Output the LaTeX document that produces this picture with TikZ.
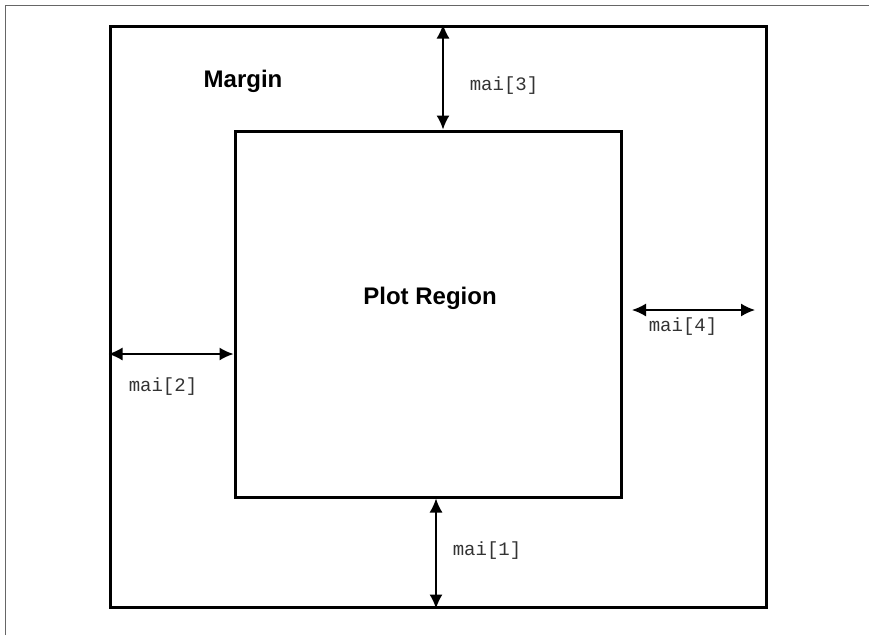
\documentclass[tikz,border=0pt]{standalone}
\usepackage{fontspec}
\setmainfont{Liberation Sans}
\setmonofont{Liberation Mono}
\usepackage{tikz}
\usetikzlibrary{arrows.meta,positioning,calc}

\tikzset{
  regionbox/.style={draw,line width=3pt,minimum width=#1},
  gapline/.style={{Latex[length=14pt,width=13pt]}-{Latex[length=14pt,width=13pt]},line width=1.5pt},
  boxlabel/.style={font=\fontsize{24}{28}\selectfont\bfseries,anchor=base},
  gaplabel/.style={font=\fontsize{19}{22}\selectfont\ttfamily,anchor=base,text=black!80}
}

\begin{document}
\begin{tikzpicture}[x=1pt,y=-1pt]
 \useasboundingbox (0,0) rectangle (869,635);
 % page frame
 \draw[black!60,line width=1pt] (5,635) -- (5,5) -- (869,5);
 % figure and plot region
 \node[regionbox=656pt,minimum height=581pt] (outer) at (438,316.5) {};
 \node[regionbox=386pt,minimum height=366pt] (inner) at (428,314) {};
 \node[boxlabel] (margin) at (243,87) {Margin};
 \node[boxlabel] (plot) at (430,304) {Plot Region};
 % top
 \coordinate (top) at (443,0);
 \draw[gapline] (top |- outer.north) -- (top |- inner.north);
 \node[gaplabel] (mai3) at (504,90) {mai[3]};
 % right
 \coordinate (rgta) at (632,310);
 \coordinate (rgtb) at (755,310);
 \draw[gapline] (rgta) -- (rgtb);
 \node[gaplabel] (mai4) at (683,331) {mai[4]};
 % left
 \coordinate (lft) at (0,354);
 \draw[gapline] (lft -| outer.west) -- (lft -| inner.west);
 \node[gaplabel] (mai2) at (163,391) {mai[2]};
 % bottom
 \coordinate (bot) at (436,0);
 \draw[gapline] (bot |- inner.south) -- (bot |- outer.south);
 \node[gaplabel] (mai1) at (487,555) {mai[1]};
\end{tikzpicture}
\end{document}
